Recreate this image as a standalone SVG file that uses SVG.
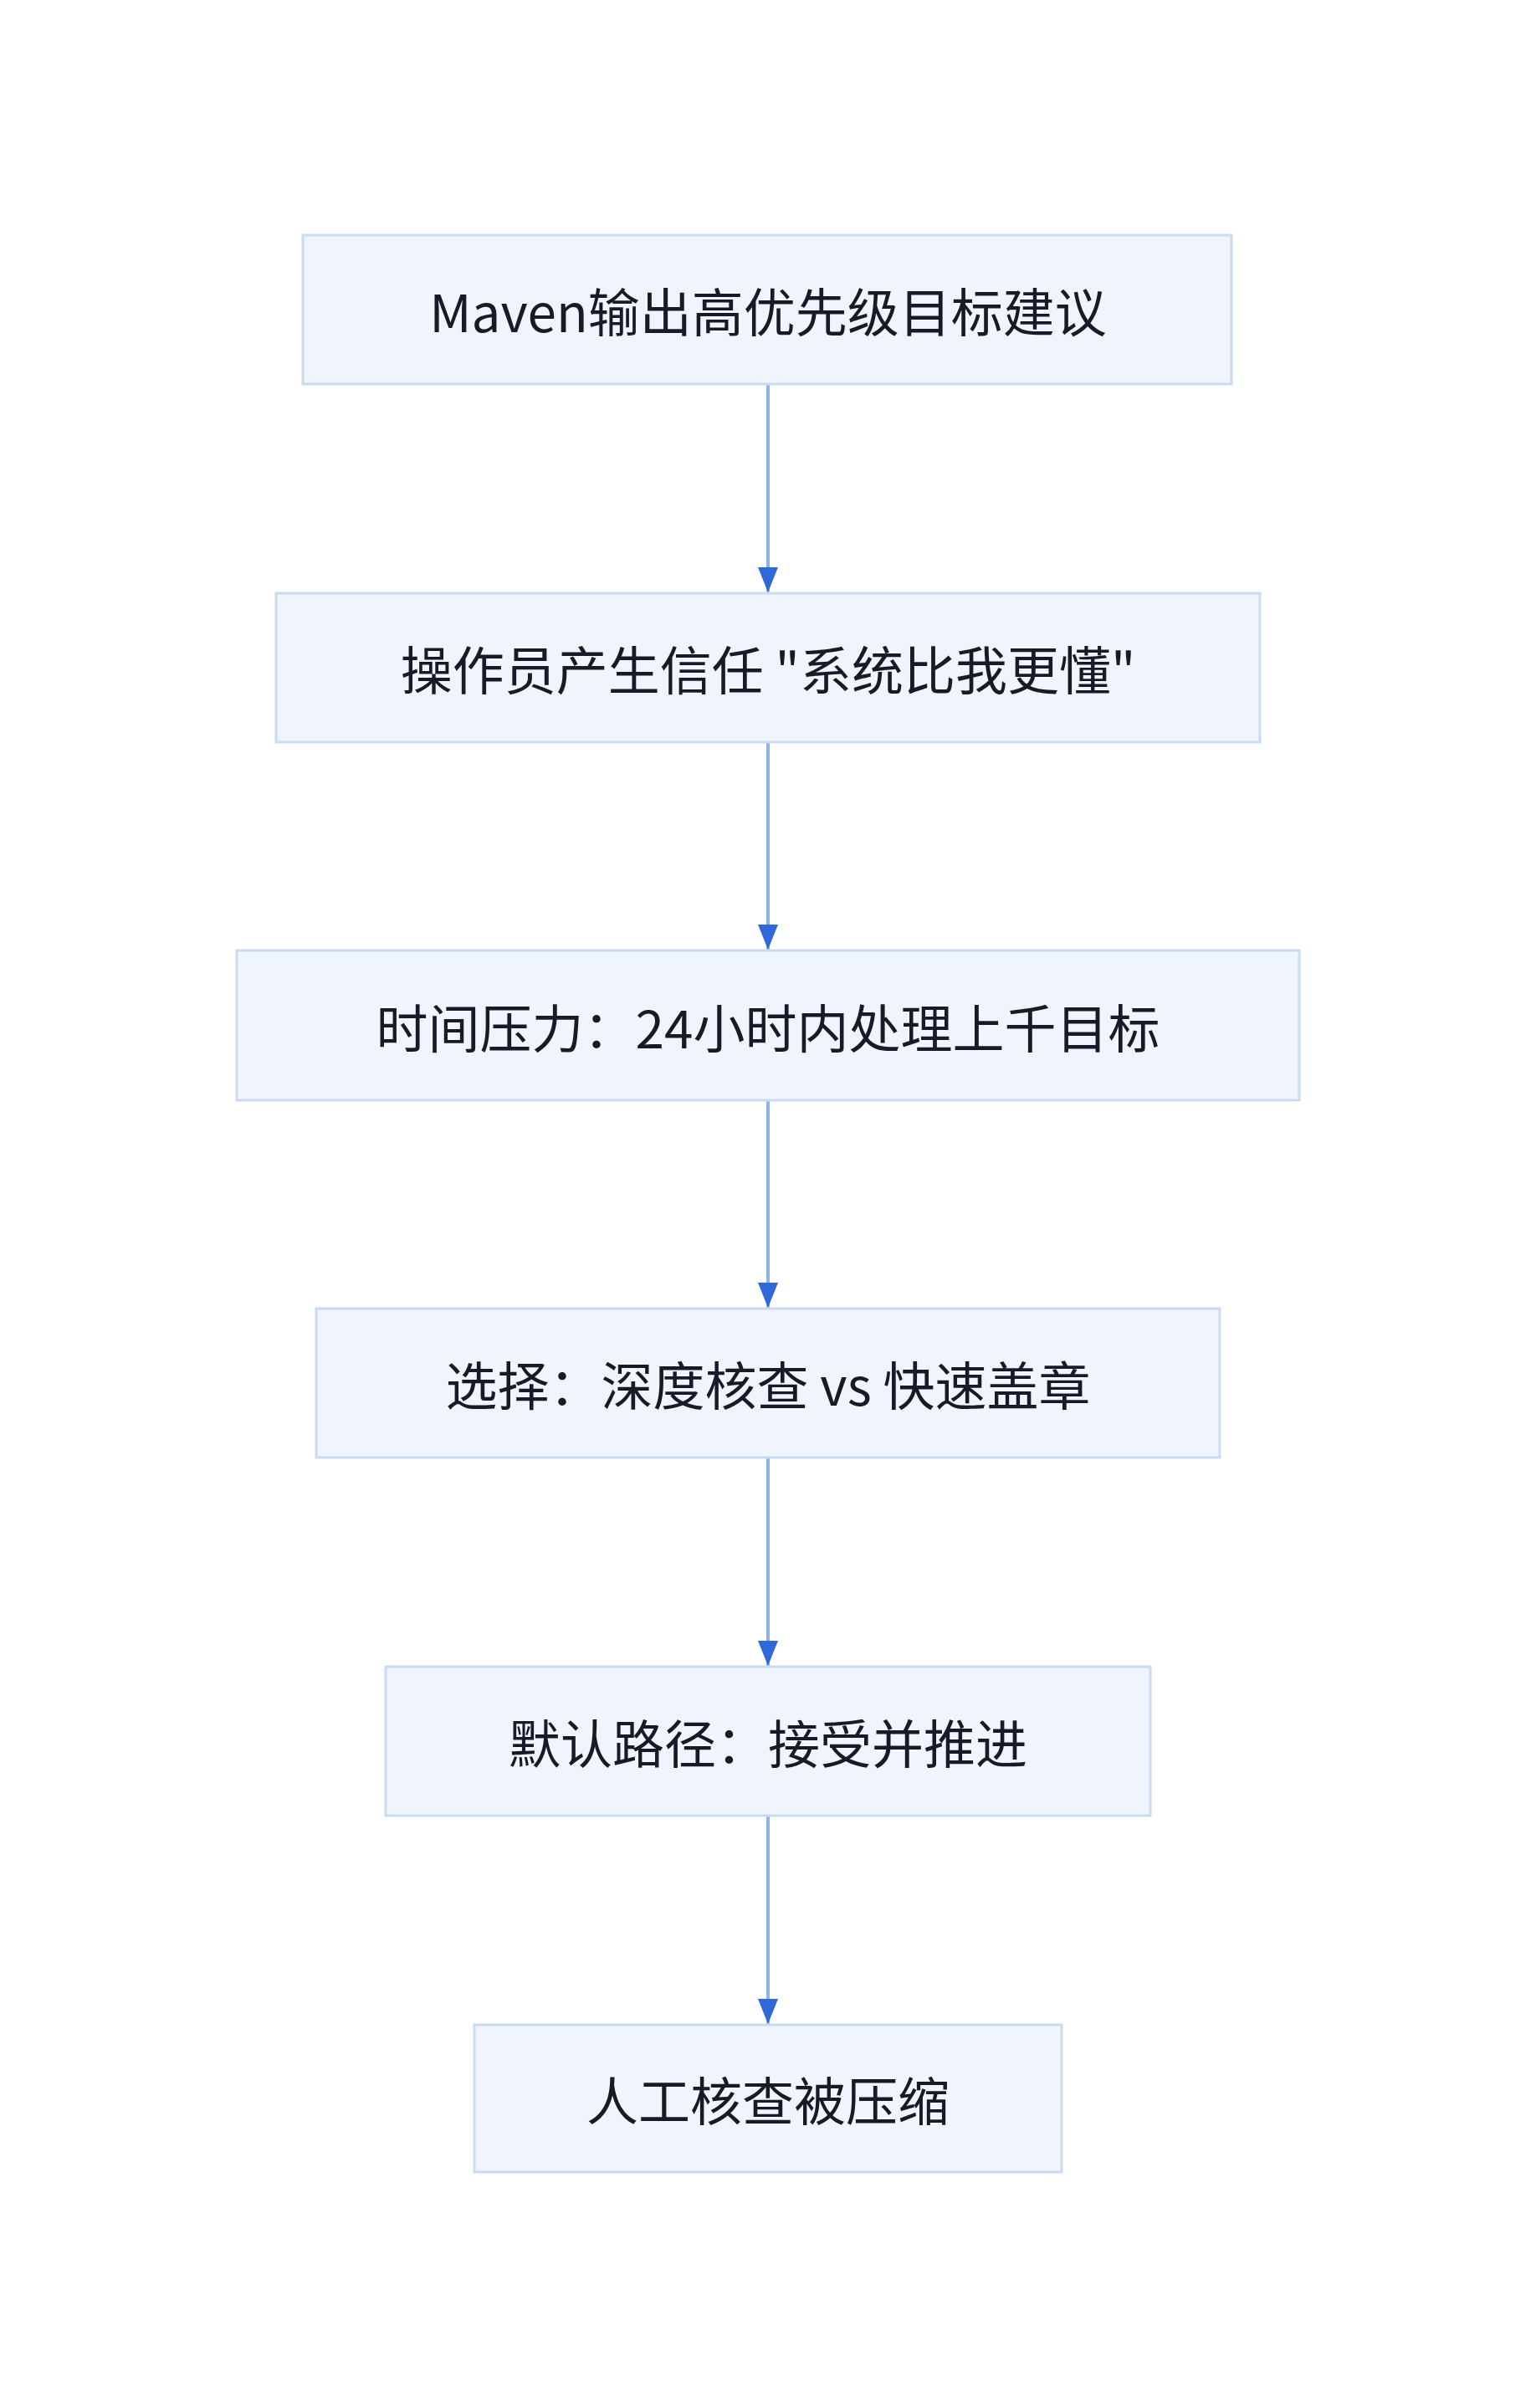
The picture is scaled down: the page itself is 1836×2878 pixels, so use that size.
<svg xmlns="http://www.w3.org/2000/svg" width="1836" height="2878" viewBox="0 0 1836 2878">
<style>
.n rect{fill:#f0f5fd;stroke:#c9daf3;stroke-width:3}
.n text{font-family:"Noto Sans CJK SC","Inter",sans-serif;font-size:62px;fill:#151b28;text-anchor:middle;dominant-baseline:central}
.c line{stroke:#8fb3ec;stroke-width:4}
</style>
<defs><marker id="a" markerWidth="30" markerHeight="24" refX="30" refY="12" orient="auto" markerUnits="userSpaceOnUse" viewBox="0 0 30 24"><path d="M0 0L30 12L0 24Z" fill="#2f69d9"/></marker></defs>
<rect width="1836" height="2878" fill="#fff"/>
<g class="c">
<line x1="918" y1="460" x2="918" y2="708" marker-end="url(#a)"/>
<line x1="918" y1="888" x2="918" y2="1135" marker-end="url(#a)"/>
<line x1="918" y1="1316" x2="918" y2="1563" marker-end="url(#a)"/>
<line x1="918" y1="1743" x2="918" y2="1991" marker-end="url(#a)"/>
<line x1="918" y1="2171" x2="918" y2="2419" marker-end="url(#a)"/>
</g>
<g id="n1" class="n"><rect x="362" y="281" width="1110" height="178"/><text x="918" y="370">Maven输出高优先级目标建议</text></g>
<g id="n2" class="n"><rect x="330" y="709" width="1176" height="178"/><text x="918" y="798">操作员产生信任 "系统比我更懂"</text></g>
<g id="n3" class="n"><rect x="283" y="1136" width="1270" height="179"/><text x="918" y="1226">时间压力：24小时内处理上千目标</text></g>
<g id="n4" class="n"><rect x="378" y="1564" width="1080" height="178"/><text x="918" y="1653">选择：深度核查 vs 快速盖章</text></g>
<g id="n5" class="n"><rect x="461" y="1992" width="914" height="178"/><text x="918" y="2081">默认路径：接受并推进</text></g>
<g id="n6" class="n"><rect x="567" y="2420" width="702" height="176"/><text x="918" y="2508">人工核查被压缩</text></g>
</svg>
